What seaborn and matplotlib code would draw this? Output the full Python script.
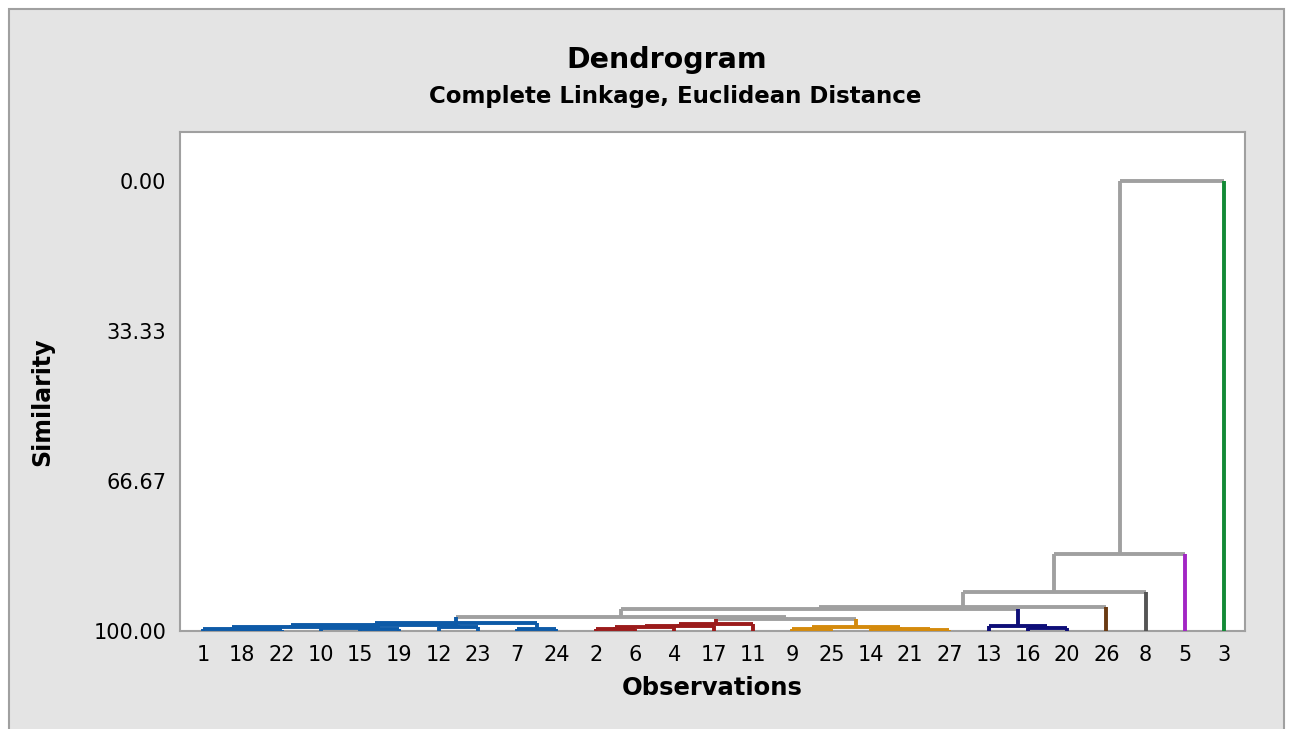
import numpy as np
import pandas as pd
import matplotlib.pyplot as plt
from matplotlib.patches import Rectangle
import seaborn as sns

# leaf order along the x axis, with the final-partition cluster of each leaf
leaves = ["1", "18", "22", "10", "15", "19", "12", "23", "7", "24",
          "2", "6", "4", "17", "11",
          "9", "25", "14", "21", "27",
          "13", "16", "20",
          "26", "8", "5", "3"]
leaf_cluster = ["blue"] * 10 + ["red"] * 5 + ["orange"] * 5 + ["navy"] * 3 + \
               ["brown", "dark", "purple", "green"]

# merges (left child, right child, similarity level)
node_names = ["b1", "b2", "b3", "b4", "b5", "b6", "b7", "b8", "b9",
              "r1", "r2", "r3", "r4",
              "o1", "o2", "o3", "o4",
              "v1", "v2",
              "g1", "g2", "g3", "g4", "g5", "g6", "g7"]
left_child = ["18", "1", "15", "10", "b2", "12", "b5", "7", "b7",
              "2", "r1", "r2", "r3",
              "9", "21", "14", "o1",
              "16", "13",
              "r4", "b9", "g2", "g3", "g4", "g5", "g6"]
right_child = ["22", "b1", "19", "b3", "b4", "23", "b6", "24", "b8",
               "6", "4", "17", "11",
               "25", "27", "o2", "o3",
               "20", "v1",
               "o4", "g1", "v2", "26", "8", "5", "3"]
similarity = [99.75, 99.45, 99.6, 99.3, 99.0, 99.2, 98.7, 99.6, 98.2,
              99.55, 99.2, 98.95, 98.4,
              99.5, 99.7, 99.45, 99.0,
              99.27, 98.9,
              97.4, 96.8, 95.2, 94.6, 91.3, 82.9, 0.0]

palette = {"blue": "#0D5AA7", "red": "#9B1B1B", "orange": "#D48A0C",
           "navy": "#0E0E78", "brown": "#6A3A12", "dark": "#555555",
           "purple": "#A226C4", "green": "#138A36", "link": "#A0A0A0"}

y_ticks = [0.0, 33.33, 66.67, 100.0]

# positions of leaves and nodes
pos = {lab: float(i) for i, lab in enumerate(leaves)}
lev = {lab: 100.0 for lab in leaves}
col = {lab: c for lab, c in zip(leaves, leaf_cluster)}
segs = []
for name, l, r, s in zip(node_names, left_child, right_child, similarity):
    for ch in (l, r):
        segs.append((pos[ch], pos[ch], lev[ch], s, col[ch]))
    c = col[l] if col[l] == col[r] else "link"
    segs.append((pos[l], pos[r], s, s, c))
    pos[name] = (pos[l] + pos[r]) / 2
    lev[name] = s
    col[name] = c
segs = pd.DataFrame(segs, columns=["x0", "x1", "y0", "y1", "cluster"])

sns.set_style("white")
plt.rcParams["font.family"] = ["DejaVu Sans"]
plt.rcParams["text.color"] = "black"

fig = plt.figure(figsize=(12.97, 7.29), dpi=100, facecolor="white")
W, H = 1297, 729
fig.patches.append(Rectangle((9 / W, -0.01), (1284 - 9) / W, (H - 9) / H + 0.01,
                             transform=fig.transFigure, facecolor="#E4E4E4",
                             edgecolor="#A0A0A0", linewidth=1.5, zorder=-5))
ax = fig.add_axes([180 / W, (H - 631) / H, (1245 - 180) / W, (631 - 132) / H])
ax.set_facecolor("white")

# draw grey links first, coloured clusters on top
order = segs["cluster"].eq("link").map({True: 0, False: 1})
for _, sg in segs.assign(o=order).sort_values("o").iterrows():
    ax.plot([sg.x0, sg.x1], [sg.y0, sg.y1], color=palette[sg.cluster],
            linewidth=2.8, solid_capstyle="butt", zorder=2 + sg.o)

ax.set_xlim(-0.586, 26.53)
ax.set_ylim(100, -10.9)
ax.set_xticks(range(len(leaves)))
ax.set_xticklabels(leaves)
ax.set_yticks(y_ticks)
ax.set_yticklabels([f"{v:.2f}" for v in y_ticks])
ax.tick_params(axis="both", which="major", direction="out", length=6, width=1.5,
               color="#A0A0A0", labelsize=15, labelcolor="black", pad=4)
for sp in ax.spines.values():
    sp.set_color("#A0A0A0")
    sp.set_linewidth(1.5)

ax.set_xlabel("Observations", fontsize=17.5, fontweight="bold", color="black")
ax.xaxis.set_label_coords((712 - 180) / 1065, (631 - 688) / 499)
ax.set_ylabel("Similarity", fontsize=17, fontweight="bold", color="black")
ax.yaxis.set_label_coords((42 - 180) / 1065, (631 - 402) / 499)
ax.xaxis.label.set_va("center")
ax.yaxis.label.set_va("center")

fig.text(667 / W, 1 - 60 / H, "Dendrogram", ha="center", va="center",
         fontsize=20.5, fontweight="bold")
fig.text(675 / W, 1 - 97 / H, "Complete Linkage, Euclidean Distance",
         ha="center", va="center", fontsize=16.5, fontweight="bold")

fig.savefig("out.png", dpi=100, facecolor=fig.get_facecolor())
